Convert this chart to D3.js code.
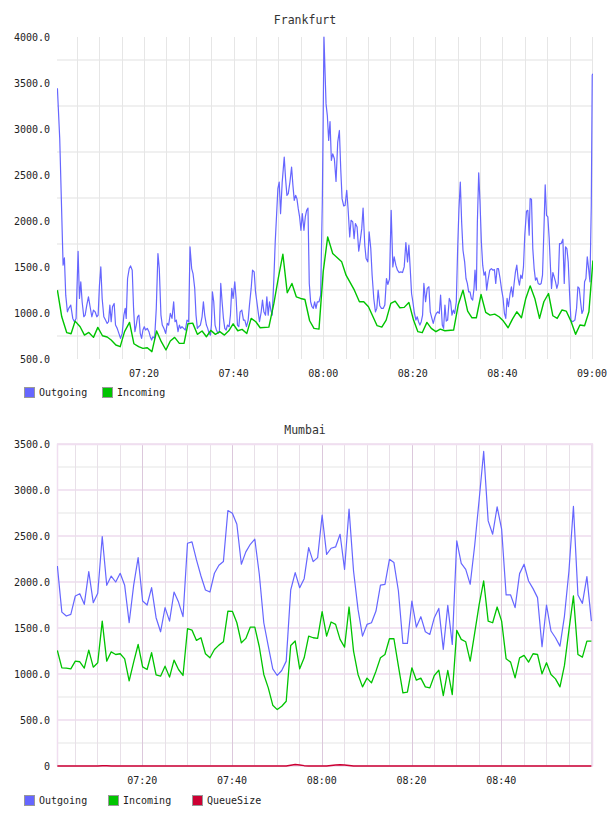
<!DOCTYPE html>
<html>
<head>
<meta charset="utf-8">
<script src="https://cdn.jsdelivr.net/npm/d3@7"></script>
<style>
  body { margin: 0; background: #fff; }
  text { font-family: "DejaVu Sans Mono", monospace; }
</style>
</head>
<body>
<svg id="chart" width="608" height="816"></svg>
<script>
// Frankfurt: [minutes after 07:00, value]
const frankfurtOutgoing = [
  [0.67,3443],[1.19,2893],[1.94,1520],[2.23,1600],[2.53,1194],[2.90,1013],[3.20,1050],[3.65,1086],[4.10,941],[4.47,905],
  [4.84,941],[5.29,1671],[5.59,1158],[5.89,1339],[6.19,1122],[6.56,959],[6.86,977],[7.23,1086],[7.60,1176],[7.97,1068],
  [8.35,959],[8.72,1032],[9.09,1013],[9.47,959],[9.76,977],[10.06,1303],[10.36,1501],[10.66,1158],[11.03,959],[11.41,923],
  [11.78,887],[12.08,905],[12.38,1086],[12.67,905],[12.97,1068],[13.34,1104],[13.64,869],[14.02,833],[14.39,778],[14.76,724],
  [15.13,778],[15.51,977],[15.81,1050],[16.03,941],[16.33,1375],[16.70,1483],[17.00,1512],[17.37,1465],[17.67,1050],[17.97,797],
  [18.27,869],[18.56,959],[18.86,977],[19.16,778],[19.46,724],[19.76,815],[20.06,851],[20.35,815],[20.73,833],[21.10,797],
  [21.40,742],[21.70,706],[21.99,742],[22.37,724],[22.74,1050],[23.11,1646],[23.41,1483],[23.78,977],[24.08,869],[24.45,833],
  [24.83,778],[25.20,887],[25.50,869],[25.87,995],[26.25,941],[26.62,1122],[26.92,905],[27.21,923],[27.59,797],[27.89,869],
  [28.18,833],[28.48,851],[28.85,833],[29.23,815],[29.60,923],[29.97,905],[30.27,1718],[30.64,1483],[30.94,1429],[31.32,1267],
  [31.61,977],[31.91,833],[32.21,851],[32.58,869],[32.96,959],[33.26,1122],[33.55,977],[33.93,869],[34.22,833],[34.52,778],
  [34.82,760],[35.04,869],[35.27,1230],[35.57,1122],[35.86,869],[36.16,815],[36.54,778],[36.83,797],[37.13,1321],[37.43,1122],
  [37.73,941],[38.03,833],[38.33,815],[38.62,869],[39.00,851],[39.29,977],[39.59,1267],[39.89,1158],[40.26,1339],[40.56,1158],
  [40.86,869],[41.16,851],[41.46,1013],[41.83,1032],[42.20,923],[42.50,923],[42.87,851],[43.25,923],[43.54,1086],[43.92,1267],
  [44.22,1465],[44.59,1447],[44.89,1230],[45.19,1122],[45.48,1013],[45.78,905],[46.16,1013],[46.45,1140],[46.75,1013],[47.12,977],
  [47.42,1176],[47.72,977],[48.02,1122],[48.32,1032],[48.62,977],[48.99,1375],[49.29,1773],[49.59,2062],[49.88,2351],[50.18,2423],
  [50.48,2080],[50.85,2423],[51.30,2694],[51.60,2459],[51.90,2279],[52.20,2297],[52.57,2423],[52.94,2586],[53.24,2387],[53.54,2224],
  [53.84,2279],[54.13,2243],[54.43,2134],[54.73,2044],[55.03,1899],[55.33,2080],[55.70,1899],[56.00,2044],[56.30,2116],[56.60,2141],
  [56.89,1321],[57.19,1122],[57.49,1068],[57.79,1050],[58.09,1122],[58.39,1050],[58.68,1122],[59.06,1122],[59.43,1194],[59.80,2200],
  [60.17,4000],[60.63,3273],[60.92,3146],[61.22,2875],[61.52,3081],[61.82,2658],[62.12,2731],[62.49,2676],[62.86,2430],[63.24,2857],
  [63.61,2984],[63.91,2568],[64.21,2243],[64.58,2163],[64.88,2170],[65.25,2333],[65.55,2134],[65.92,1827],[66.22,2008],[66.59,1990],
  [66.89,1809],[67.19,1972],[67.56,1935],[67.93,1671],[68.23,1773],[68.60,1917],[68.90,2141],[69.28,1737],[69.57,1592],[69.95,1556],
  [70.25,1881],[70.62,1700],[70.92,1411],[71.29,1158],[71.66,1013],[71.96,1050],[72.26,1248],[72.63,1079],[73.00,1050],[73.38,1050],
  [73.75,1086],[74.12,1375],[74.42,1310],[74.79,1368],[75.17,2116],[75.54,1501],[75.84,1610],[76.21,1520],[76.58,1465],[76.96,1440],
  [77.33,1447],[77.70,1440],[78.08,1501],[78.45,1765],[78.82,1556],[79.12,1737],[79.42,1483],[79.72,1212],[80.01,1122],[80.31,1013],
  [80.69,923],[80.98,959],[81.28,905],[81.58,869],[81.88,905],[82.18,977],[82.47,1321],[82.85,1122],[83.22,1267],[83.59,1285],
  [83.89,1013],[84.26,941],[84.56,887],[84.94,959],[85.23,995],[85.61,1013],[85.91,995],[86.20,1194],[86.58,869],[86.87,833],
  [87.17,1086],[87.47,912],[87.77,923],[88.14,1158],[88.44,1122],[88.74,977],[89.04,1032],[89.34,995],[89.71,1122],[90.01,1700],
  [90.30,2134],[90.60,2423],[90.90,1990],[91.20,1682],[91.57,1556],[91.87,1375],[92.17,1321],[92.47,1230],[92.77,1230],[93.06,1158],
  [93.36,1140],[93.66,1267],[93.88,1465],[94.18,1248],[94.41,1990],[94.71,2524],[95.00,2206],[95.30,1773],[95.60,1520],[95.90,1411],
  [96.20,1447],[96.49,1248],[96.79,1357],[97.17,1465],[97.54,1483],[97.91,1465],[98.21,1472],[98.51,1321],[98.81,1483],[99.11,1483],
  [99.48,1375],[99.78,1267],[100.15,1158],[100.45,995],[100.75,941],[101.04,1158],[101.34,1068],[101.72,1212],[102.01,1285],[102.31,1176],
  [102.61,1321],[102.91,1447],[103.21,1520],[103.50,1375],[103.80,1303],[104.10,1411],[104.40,1375],[104.70,1501],[104.99,1845],[105.37,2105],
  [105.67,2116],[105.97,1845],[106.19,2243],[106.49,2235],[106.78,1700],[107.08,1483],[107.38,1357],[107.68,1382],[107.98,1321],[108.35,1310],
  [108.65,1321],[108.95,1411],[109.25,1881],[109.55,2394],[109.84,2062],[110.14,2044],[110.44,1809],[110.74,1483],[110.96,1267],[111.26,1440],
  [111.56,1393],[111.86,1339],[112.15,1267],[112.45,1321],[112.75,1755],[113.12,1755],[113.50,1802],[113.80,1321],[114.09,1718],[114.39,1700],
  [114.69,1556],[114.99,1212],[115.29,923],[115.59,905],[115.88,912],[116.18,923],[116.55,1050],[116.85,1285],[117.15,1267],[117.45,1122],
  [117.75,995],[118.05,1032],[118.34,1339],[118.64,1375],[118.94,1610],[119.24,1483],[119.54,1339],[119.84,2170],[120.05,3587],[120.2,3600]
];

const frankfurtIncoming = [
  [0.67,1248],[1.64,959],[2.76,786],[3.72,775],[4.62,912],[5.74,851],[6.71,760],[7.68,789],[8.72,735],[9.69,844],
  [10.73,753],[11.78,739],[12.67,706],[13.72,652],[14.69,634],[15.66,797],[16.77,898],[17.74,666],[18.79,634],[19.76,616],
  [20.73,623],[21.77,580],[22.81,804],[23.86,688],[24.90,598],[25.87,695],[26.84,735],[27.89,670],[28.93,670],[29.82,883],
  [30.87,890],[31.91,768],[32.96,804],[33.93,742],[34.90,811],[35.94,768],[36.91,797],[37.95,760],[38.92,807],[39.89,883],
  [40.93,807],[41.90,822],[42.95,778],[43.92,941],[44.96,905],[45.93,840],[47.87,847],[48.99,1104],[49.96,1375],[51.00,1639],
  [51.97,1220],[53.02,1321],[53.99,1176],[54.96,1158],[55.92,1147],[56.97,916],[57.94,833],[59.06,825],[60.00,1450],[61.00,1827],
  [62.12,1646],[64.13,1556],[65.10,1411],[66.96,1248],[68.08,1122],[69.05,1122],[70.10,1068],[72.03,862],[73.08,847],[74.05,923],
  [75.09,1104],[76.06,1129],[77.11,1057],[78.08,1061],[79.12,1115],[80.16,923],[81.13,797],[82.10,786],[83.15,898],[84.12,833],
  [85.16,797],[86.13,825],[87.17,807],[89.11,815],[90.16,1093],[91.20,1248],[92.24,1021],[93.21,948],[94.18,948],[95.23,1201],
  [96.27,1006],[97.24,977],[98.28,988],[99.25,959],[100.22,912],[101.27,840],[102.24,934],[103.21,1013],[104.25,948],[105.22,1158],
  [106.19,1295],[107.23,1158],[108.28,941],[109.25,1122],[110.29,1212],[111.26,970],[112.23,941],[113.27,1032],[114.24,1021],[115.29,912],
  [116.33,768],[117.30,869],[118.34,862],[119.31,1013],[120.2,1570]
];

// Mumbai: one sample per minute, first at 07:01
const mumbaiStart = 1.07;
const mumbaiOutgoing = [
  2174,1673,1630,1648,1848,1873,1757,2113,1775,1877,
  2494,1964,2065,2000,2095,1964,1557,1964,2265,1793,
  1750,1938,1612,1459,1721,1575,1891,1782,1623,2421,
  2436,2240,2065,1913,1891,2095,2182,2222,2777,2748,
  2628,2193,2327,2410,2465,2084,1557,1303,1056,984,
  1038,1140,1913,2102,1938,2036,2374,2222,2265,2726,
  2301,2367,2381,2519,2138,2792,2120,1702,1412,1539,
  1557,1684,1967,1975,2247,2211,1902,1332,1332,1793,
  1510,1623,1459,1430,1612,1713,1267,1746,1321,2447,
  2203,2138,1975,2399,2900,3419,2664,2519,2817,2574,
  1859,1859,1721,2091,2193,2011,1928,1830,1296,1750,
  1467,1394,1303,1630,2120,2821,1859,1768,2058,1575
];
const mumbaiIncoming = [
  1256,1067,1064,1056,1140,1133,1064,1260,1074,1122,
  1575,1140,1241,1212,1220,1165,926,1129,1321,1078,
  1049,1231,991,976,1085,966,1151,1049,984,1492,
  1477,1365,1394,1220,1176,1267,1314,1350,1684,1681,
  1557,1339,1387,1510,1510,1296,995,849,661,613,
  650,704,1310,1358,1056,1176,1412,1394,1387,1677,
  1412,1565,1539,1376,1292,1728,1249,995,860,955,
  904,1031,1176,1212,1383,1383,1085,795,802,1067,
  933,955,860,849,984,1042,766,1038,777,1474,
  1376,1350,1140,1448,1757,2011,1575,1557,1728,1575,
  1165,1129,958,1176,1202,1129,1220,1212,1002,1122,
  995,947,860,1093,1477,1848,1212,1183,1358,1358
];
const mumbaiQueue = [
  0,0,0,0,0,0,0,0,0,0,
  3,3,0,0,0,0,0,0,0,0,
  0,0,0,0,0,0,0,0,0,0,
  0,0,0,0,0,0,0,0,0,0,
  0,0,0,0,0,0,0,0,0,0,
  0,0,8,16,12,4,0,0,0,0,
  0,6,12,14,10,6,0,0,0,0,
  0,0,0,0,0,0,0,0,0,0,
  0,0,0,0,0,0,0,0,0,0,
  0,0,0,0,0,0,0,0,0,0,
  0,0,0,0,0,0,0,0,0,0,
  0,0,0,0,0,0,0,0,0,0
];

const frankfurtTicks = ["07:20", "07:40", "08:00", "08:20", "08:40", "09:00"];
const mumbaiTicks = ["07:20", "07:40", "08:00", "08:20", "08:40"];
const frankfurtYTicks = [500, 1000, 1500, 2000, 2500, 3000, 3500, 4000];
const mumbaiYTicks = [0, 500, 1000, 1500, 2000, 2500, 3000, 3500];

const colors = { Outgoing: "#6666ff", Incoming: "#00c400", QueueSize: "#cc0033" };

const base = d3.timeParse("%H:%M")("07:00");
const at = m => new Date(base.getTime() + m * 60000);
const parseTick = d3.timeParse("%H:%M");
const fmtY = v => v === 0 ? "0" : v.toFixed(1);

const svg = d3.select("#chart");

function createChart(o) {
  const left = 57, right = 593;
  const x = d3.scaleTime().domain([at(o.xDomain[0]), at(o.xDomain[1])]).range([left, right]);
  const y = d3.scaleLinear().domain(o.yDomain).range([o.bottom, o.top]);
  const g = svg.append("g");

  // horizontal grid
  const step = o.yTicks[1] - o.yTicks[0];
  const minor = o.yTicks.slice(0, -1).map(v => v + step / 2);
  g.selectAll(".hminor").data(minor).join("line")
    .attr("x1", left).attr("x2", right)
    .attr("y1", d => y(d)).attr("y2", d => y(d))
    .attr("stroke", o.theme.hMinor).attr("stroke-width", 2);
  if (o.theme.hMajor) {
    g.selectAll(".hmajor").data(o.yTicks).join("line")
      .attr("x1", left).attr("x2", right)
      .attr("y1", d => y(d)).attr("y2", d => y(d))
      .attr("stroke", o.theme.hMajor).attr("stroke-width", 2);
  }

  // vertical grid every 5 minutes
  const majors = o.xTicks.map(t => +parseTick(t));
  const fives = d3.timeMinute.every(5).range(x.domain()[0], x.domain()[1]);
  g.selectAll(".vgrid").data(fives).join("line")
    .attr("x1", d => Math.round(x(d)) + 0.5).attr("x2", d => Math.round(x(d)) + 0.5)
    .attr("y1", o.top).attr("y2", o.bottom)
    .attr("stroke", d => majors.includes(+d) ? o.theme.vMajor : o.theme.vMinor);

  if (o.theme.border) {
    g.append("path")
      .attr("d", `M${left + 0.5},${o.bottom}V${o.top + 0.5}H${right - 0.5}V${o.bottom}`)
      .attr("fill", "none").attr("stroke", o.theme.border).attr("stroke-width", 1.5);
  }

  // y labels
  g.selectAll(".ylab").data(o.yTicks).join("text")
    .attr("x", 50).attr("y", d => y(d)).attr("dy", "0.35em")
    .attr("text-anchor", "end").style("font-size", "10px").attr("fill", "#222")
    .text(fmtY);

  // x labels
  g.selectAll(".xlab").data(o.xTicks).join("text")
    .attr("x", d => x(parseTick(d))).attr("y", o.bottom + 18)
    .attr("text-anchor", "middle").style("font-size", "10px").attr("fill", "#222")
    .text(d => d);

  // title
  g.append("text")
    .attr("x", 305).attr("y", o.titleY)
    .attr("text-anchor", "middle").style("font-size", "11.5px").attr("fill", "#333")
    .text(o.title);

  // lines
  const clipId = "clip" + o.title;
  svg.append("clipPath").attr("id", clipId).append("rect")
    .attr("x", left).attr("y", o.top - 1).attr("width", right - left).attr("height", o.bottom - o.top + 2);
  const line = d3.line().x(d => x(at(d[0]))).y(d => y(d[1]));
  o.series.forEach(s => {
    g.append("path")
      .datum(s.data)
      .attr("clip-path", `url(#${clipId})`)
      .attr("fill", "none")
      .attr("stroke", colors[s.name])
      .attr("stroke-width", s.width || 1.3)
      .attr("stroke-linejoin", "round")
      .attr("d", line);
  });

  // legend
  o.series.forEach((s, i) => {
    const lx = 24 + i * o.legendStep;
    g.append("rect")
      .attr("x", lx + 0.5).attr("y", o.legendY + 0.5).attr("width", 10).attr("height", 10)
      .attr("fill", colors[s.name]).attr("stroke", "#999");
    g.append("text")
      .attr("x", lx + 15).attr("y", o.legendY + 9)
      .style("font-size", "10px").attr("fill", "#222")
      .text(s.name);
  });
}

createChart({
  title: "Frankfurt", titleY: 24,
  top: 37, bottom: 359,
  yDomain: [500, 4000], yTicks: frankfurtYTicks,
  xDomain: [0.58, 120.22], xTicks: frankfurtTicks,
  legendY: 387, legendStep: 78,
  theme: { hMinor: "#f0f0f0", hMajor: null, vMinor: "#e6e6e6", vMajor: "#e6e6e6", border: null },
  series: [
    { name: "Outgoing", data: frankfurtOutgoing, width: 1.2 },
    { name: "Incoming", data: frankfurtIncoming, width: 1.4 }
  ]
});

const mumbaiSeries = vals => vals.map((v, i) => [mumbaiStart + i, v]);

createChart({
  title: "Mumbai", titleY: 434,
  top: 444, bottom: 766,
  yDomain: [0, 3500], yTicks: mumbaiYTicks,
  xDomain: [0.99, 120.43], xTicks: mumbaiTicks,
  legendY: 795, legendStep: 84,
  theme: { hMinor: "#f2f2f2", hMajor: "#f2e4f2", vMinor: "#e8e0e8", vMajor: "#dcc8dc", border: "#f0def0" },
  series: [
    { name: "Outgoing", data: mumbaiSeries(mumbaiOutgoing), width: 1.2 },
    { name: "Incoming", data: mumbaiSeries(mumbaiIncoming), width: 1.3 },
    { name: "QueueSize", data: mumbaiSeries(mumbaiQueue), width: 1.5 }
  ]
});
</script>
</body>
</html>
